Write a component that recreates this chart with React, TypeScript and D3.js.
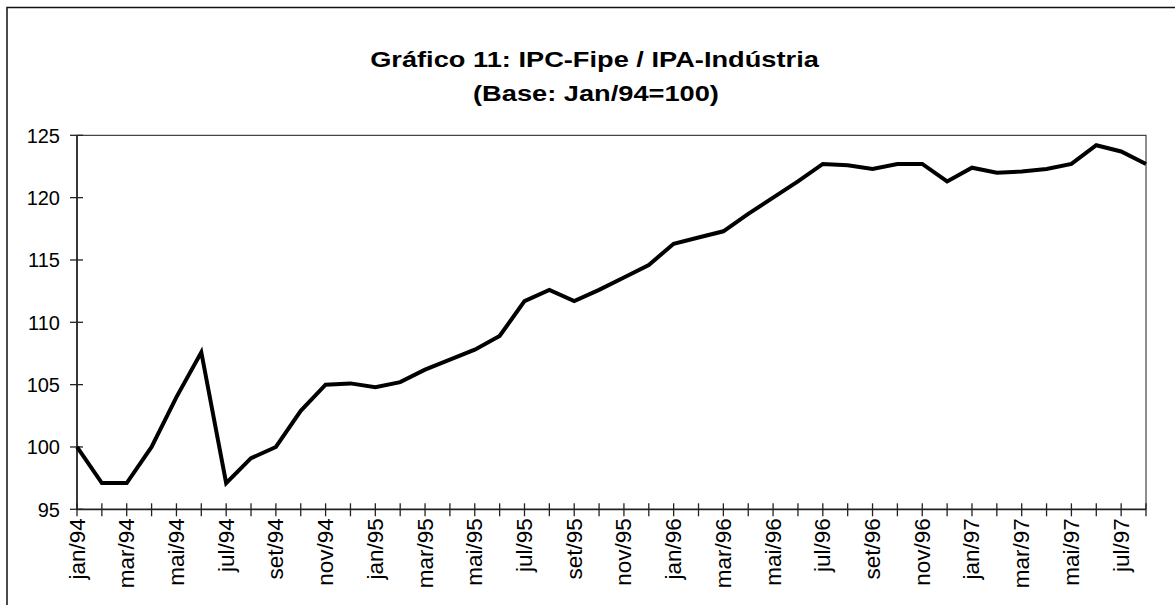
import React from "react";
import * as d3 from "d3";

const titleLines = ["Gráfico 11: IPC-Fipe / IPA-Indústria", "(Base: Jan/94=100)"];

const months = ["jan", "fev", "mar", "abr", "mai", "jun", "jul", "ago", "set", "out", "nov", "dez"];
const years = ["94", "95", "96", "97"];
const categories: string[] = [];
years.forEach((y) => months.forEach((m) => categories.push(`${m}/${y}`)));
const cats = categories.slice(0, 44);

const values = [
  100.0, 97.1, 97.1, 100.0, 104.0, 107.6, 97.1, 99.1, 100.0, 102.9, 105.0, 105.1,
  104.8, 105.2, 106.2, 107.0, 107.8, 108.9, 111.7, 112.6, 111.7, 112.6, 113.6, 114.6,
  116.3, 116.8, 117.3, 118.7, 120.0, 121.3, 122.7, 122.6, 122.3, 122.7, 122.7, 121.3,
  122.4, 122.0, 122.1, 122.3, 122.7, 124.2, 123.7, 122.7,
];

const yTicks = [95, 100, 105, 110, 115, 120, 125];

const W = 1175;
const H = 605;
const left = 77;
const right = 1146;
const top = 135.3;
const bottom = 509.3;
const FONT = "'Liberation Sans', Arial, sans-serif";

export default function App() {
  const x = d3.scalePoint<string>().domain(cats).range([left, right]);
  const y = d3.scaleLinear().domain([95, 125]).range([bottom, top]);
  const line = d3
    .line<number>()
    .x((_, i) => x(cats[i]) as number)
    .y((d) => y(d));

  return (
    <svg width={W} height={H} style={{ position: "absolute", left: 0, top: 0, background: "#fff" }}>
      <rect x={0} y={0} width={W} height={H} fill="#fff" />
      <rect x={7} y={7.5} width={W + 10} height={H + 10} fill="none" stroke="#111" strokeWidth={1.5} />
      <g fontFamily={FONT} fontWeight="bold" fontSize={22.5} textAnchor="middle" fill="#000">
        <text transform={`translate(594.5,67) scale(1.21,1)`}>{titleLines[0]}</text>
        <text transform={`translate(596,101) scale(1.21,1)`}>{titleLines[1]}</text>
      </g>
      {/* plot box top/right */}
      <path d={`M${left},${top}H${right}V${bottom}`} fill="none" stroke="#444" strokeWidth={1.2} />
      {/* y axis */}
      <line x1={left} x2={left} y1={top} y2={bottom} stroke="#222" strokeWidth={1.8} />
      {yTicks.map((t) => (
        <g key={t}>
          <line x1={left - 7} x2={left + 6} y1={y(t)} y2={y(t)} stroke="#222" strokeWidth={1.3} />
          <text x={left - 17} y={y(t)} dy="0.36em" textAnchor="end" fontFamily={FONT} fontSize={20} fill="#000">
            {t}
          </text>
        </g>
      ))}
      {/* x axis */}
      <line x1={left} x2={right} y1={bottom} y2={bottom} stroke="#222" strokeWidth={1.8} />
      {cats.map((c, i) => (
        <g key={c}>
          <line x1={x(c)} x2={x(c)} y1={bottom - 6} y2={bottom + 7} stroke="#222" strokeWidth={1.3} />
          {i % 2 === 0 && (
            <text
              transform={`translate(${(x(c) as number) + 7.5},${bottom + 9}) rotate(-90)`}
              textAnchor="end"
              fontFamily={FONT}
              fontSize={22.5}
              fill="#000"
            >
              {c}
            </text>
          )}
        </g>
      ))}
      <path d={line(values) || ""} fill="none" stroke="#000" strokeWidth={4} strokeLinejoin="miter" />
    </svg>
  );
}
